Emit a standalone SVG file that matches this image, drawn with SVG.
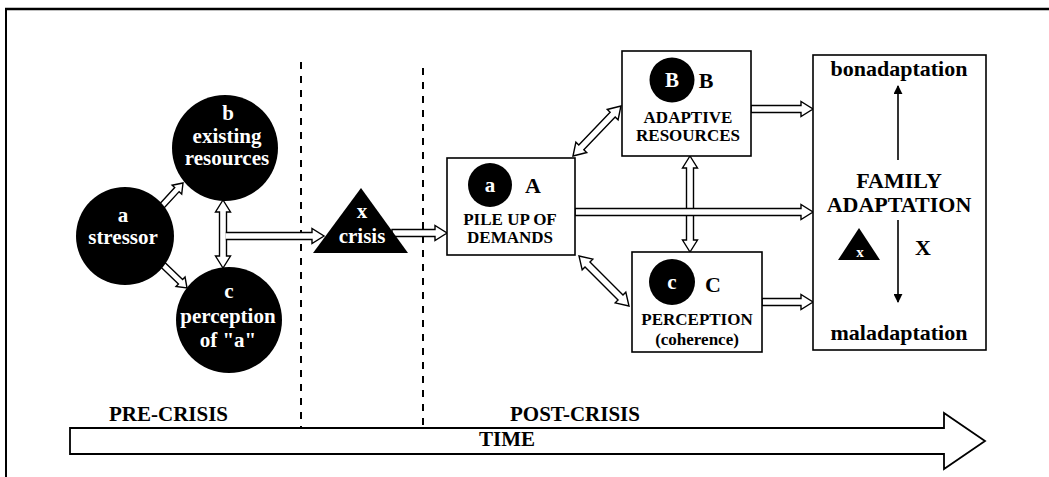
<svg xmlns="http://www.w3.org/2000/svg" width="1049" height="477" viewBox="0 0 1049 477">
<style>
text{font-family:"Liberation Serif","Times New Roman",serif;font-weight:bold;text-anchor:middle}
.w{fill:#fff}
.k{fill:#000}
.arr{fill:#fff;stroke:#000;stroke-width:1.4;stroke-linejoin:miter}
.box{fill:#fff;stroke:#000;stroke-width:1.6}
.dash{stroke:#000;stroke-width:2;stroke-dasharray:7 7;fill:none}
.thin{stroke:#000;stroke-width:1.6;fill:none}
.c21{font-size:21px}
.c17{font-size:17px}
.c22{font-size:22px}
</style>
<defs>
<marker id="ah" viewBox="0 0 10 10" refX="9" refY="5" markerWidth="9" markerHeight="9" markerUnits="userSpaceOnUse" orient="auto">
<path d="M0,0 L10,5 L0,10 Z" fill="#000"/>
</marker>
</defs>
<rect width="1049" height="477" fill="#fff"/>
<g id="frame">
<line x1="5" y1="9" x2="1049" y2="9" stroke="#000" stroke-width="2.5"/>
<line x1="6" y1="8" x2="6" y2="477" stroke="#000" stroke-width="2"/>
</g>
<g id="dividers">
<line class="dash" x1="301" y1="62" x2="301" y2="427"/>
<line class="dash" x1="423" y1="68" x2="423" y2="427"/>
</g>
<g id="connectors">
<polygon class="arr" transform="translate(160,208) rotate(-47.4)" points="0,-3 25,-3 25,-6.5 34,0 25,6.5 25,3 0,3"/>
<polygon class="arr" transform="translate(160,262) rotate(43.9)" points="0,-3 28.5,-3 28.5,-6.5 37.5,0 28.5,6.5 28.5,3 0,3"/>
<polygon class="arr" points="223,200 230.5,212 226.5,212 226.5,256 230.5,256 223,268 215.5,256 219.5,256 219.5,212 215.5,212"/>
<path class="arr" d="M225.8,232.5 H312 V228.5 L324,236 L312,243.5 V239.5 H225.8"/>
<polygon class="arr" points="392,229.5 435,229.5 435,225.5 447,233 435,240.5 435,236.5 392,236.5"/>
<polygon class="arr" transform="translate(573,156) rotate(-46.2)" points="0,0 12,-7.5 12,-3.5 57.3,-3.5 57.3,-7.5 69.3,0 57.3,7.5 57.3,3.5 12,3.5 12,7.5"/>
<polygon class="arr" transform="translate(579,256) rotate(45)" points="0,0 12,-7.5 12,-3.5 58.7,-3.5 58.7,-7.5 70.7,0 58.7,7.5 58.7,3.5 12,3.5 12,7.5"/>
<polygon class="arr" points="690,156 697.5,168 693.5,168 693.5,240 697.5,240 690,252 682.5,240 686.5,240 686.5,168 682.5,168"/>
<polygon class="arr" points="751,105.5 801,105.5 801,101.5 813,109 801,116.5 801,112.5 751,112.5"/>
<polygon class="arr" points="575,208.5 801,208.5 801,204.5 813,212 801,219.5 801,215.5 575,215.5"/>
<polygon class="arr" points="762,298.5 801,298.5 801,294.5 813,302 801,309.5 801,305.5 762,305.5"/>
</g>
<g id="node-stressor">
<circle cx="125" cy="236" r="49" class="k"/>
<text x="123" y="222" class="w c21">a</text>
<text x="123" y="244" class="w c21">stressor</text>
</g>
<g id="node-b">
<circle cx="225" cy="148" r="53" class="k"/>
<text x="228" y="120" class="w c21">b</text>
<text x="227" y="143" class="w c21">existing</text>
<text x="227" y="165" class="w c21">resources</text>
</g>
<g id="node-c">
<circle cx="229" cy="320" r="53" class="k"/>
<text x="229" y="298" class="w c21">c</text>
<text x="228" y="323" class="w c21">perception</text>
<text x="228" y="347" class="w c21">of "a"</text>
</g>
<g id="node-crisis">
<polygon points="361,188 313,253 408,253" class="k"/>
<text x="362" y="218" class="w c21">x</text>
<text x="362" y="243" class="w c21">crisis</text>
</g>
<g id="node-A">
<rect x="447" y="158" width="128" height="97" class="box"/>
<circle cx="490" cy="185" r="22" class="k"/>
<text x="490" y="192" class="w c21">a</text>
<text x="533" y="193" class="c22">A</text>
<text x="510" y="225" class="c17">PILE UP OF</text>
<text x="510" y="243" class="c17">DEMANDS</text>
</g>
<g id="node-B">
<rect x="622" y="51" width="129" height="105" class="box"/>
<circle cx="672" cy="80" r="22.5" class="k"/>
<text x="672" y="87" class="w c21">B</text>
<text x="706" y="88" class="c22">B</text>
<text x="688" y="123" class="c17">ADAPTIVE</text>
<text x="688" y="141" class="c17">RESOURCES</text>
</g>
<g id="node-C">
<rect x="632" y="252" width="130" height="100" class="box"/>
<circle cx="672" cy="282" r="23" class="k"/>
<text x="672" y="289" class="w c21">c</text>
<text x="713" y="292" class="c22">C</text>
<text x="697" y="325" class="c17">PERCEPTION</text>
<text x="697" y="345" class="c17">(coherence)</text>
</g>
<g id="node-family">
<rect x="813" y="55" width="173" height="295" class="box"/>
<text x="899" y="76" class="c22">bonadaptation</text>
<line class="thin" x1="898" y1="160" x2="898" y2="86" marker-end="url(#ah)"/>
<text x="899" y="188" class="c22">FAMILY</text>
<text x="899" y="212" class="c22">ADAPTATION</text>
<polygon points="859,228 838,260 880,260" class="k"/>
<text x="860" y="257" class="w" style="font-size:15px">x</text>
<text x="923" y="255" class="c22">X</text>
<line class="thin" x1="898" y1="220" x2="898" y2="302" marker-end="url(#ah)"/>
<text x="899" y="340" class="c22">maladaptation</text>
</g>
<g id="timeline">
<text x="109" y="421" class="c21" style="text-anchor:start">PRE-CRISIS</text>
<text x="510" y="421" class="c21" style="text-anchor:start">POST-CRISIS</text>
<polygon points="70,428 944,428 944,413 985,441 944,469 944,454 70,454" fill="#fff" stroke="#000" stroke-width="1.8"/>
<text x="507" y="446" class="c21">TIME</text>
</g>
</svg>
